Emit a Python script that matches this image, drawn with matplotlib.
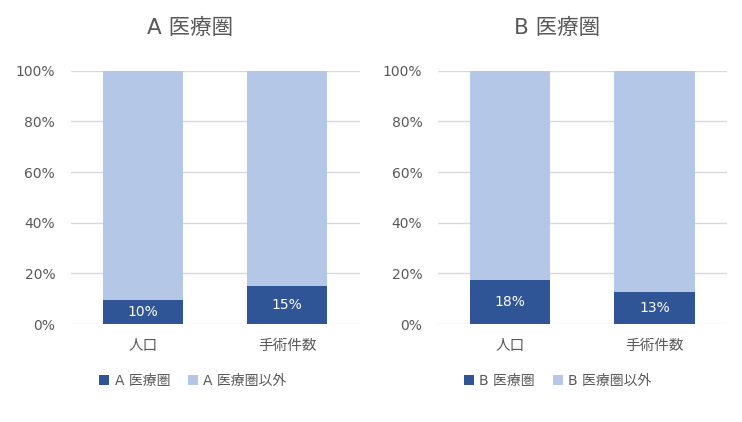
import matplotlib
matplotlib.use("Agg")
import matplotlib.pyplot as plt
from matplotlib.patches import Patch

plt.rcParams['font.family'] = ['DejaVu Sans', 'Noto Sans CJK JP']

categories = ['人口', '手術件数']
a_values = [9.5, 15.0]
b_values = [17.4, 12.6]
a_labels = ['10%', '15%']
b_labels = ['18%', '13%']
titles = ['A 医療圏', 'B 医療圏']
series_in = ['A 医療圏', 'B 医療圏']
series_out = ['A 医療圏以外', 'B 医療圏以外']
yticks = [0, 20, 40, 60, 80, 100]

DARK = '#2F5597'
LIGHT = '#B4C7E7'
GRID = '#D9D9D9'
TEXT = '#595959'

W, H = 742, 422
fig = plt.figure(figsize=(W / 100, H / 100), dpi=100)

axes_px = [(70.5, 359.5), (437.7, 726.7)]
title_cx = [190, 557]
legend_cx = [193, 558]
bottom = 1 - 324 / H
top = 1 - 70.7 / H

for i, (vals, labs) in enumerate([(a_values, a_labels), (b_values, b_labels)]):
    l, r = axes_px[i]
    ax = fig.add_axes([l / W, bottom, (r - l) / W, top - bottom])
    x = list(range(len(categories)))
    rest = [100 - v for v in vals]
    ax.bar(x, vals, width=0.555, color=DARK, zorder=3)
    ax.bar(x, rest, bottom=vals, width=0.555, color=LIGHT, zorder=3)
    for xi, v, t in zip(x, vals, labs):
        ax.text(xi, v / 2, t, ha='center', va='center', color='white', fontsize=10, zorder=4)
    ax.set_xlim(-0.5, 1.5)
    ax.set_ylim(0, 100)
    ax.set_yticks(yticks)
    ax.set_yticklabels([f'{t}%' for t in yticks])
    ax.set_xticks(x)
    ax.set_xticklabels(categories)
    ax.yaxis.grid(True, color=GRID, linewidth=1, zorder=0)
    ax.set_axisbelow(True)
    for s in ax.spines.values():
        s.set_visible(False)
    ax.tick_params(axis='both', length=0, colors=TEXT, labelsize=10)
    ax.tick_params(axis='y', pad=11)
    ax.tick_params(axis='x', pad=10, labelsize=10.5)
    fig.text(title_cx[i] / W, 1 - 28 / H, titles[i], ha='center', va='center', fontsize=15.5, color=TEXT)
    handles = [Patch(facecolor=DARK, label=series_in[i]), Patch(facecolor=LIGHT, label=series_out[i])]
    leg = fig.legend(handles=handles, loc='center', bbox_to_anchor=(legend_cx[i] / W, 1 - 381 / H),
                     ncol=2, frameon=False, fontsize=10, handlelength=0.7, handleheight=0.7,
                     handletextpad=0.4, columnspacing=1.3)
    for t in leg.get_texts():
        t.set_color(TEXT)

fig.savefig('out.png', dpi=100)
